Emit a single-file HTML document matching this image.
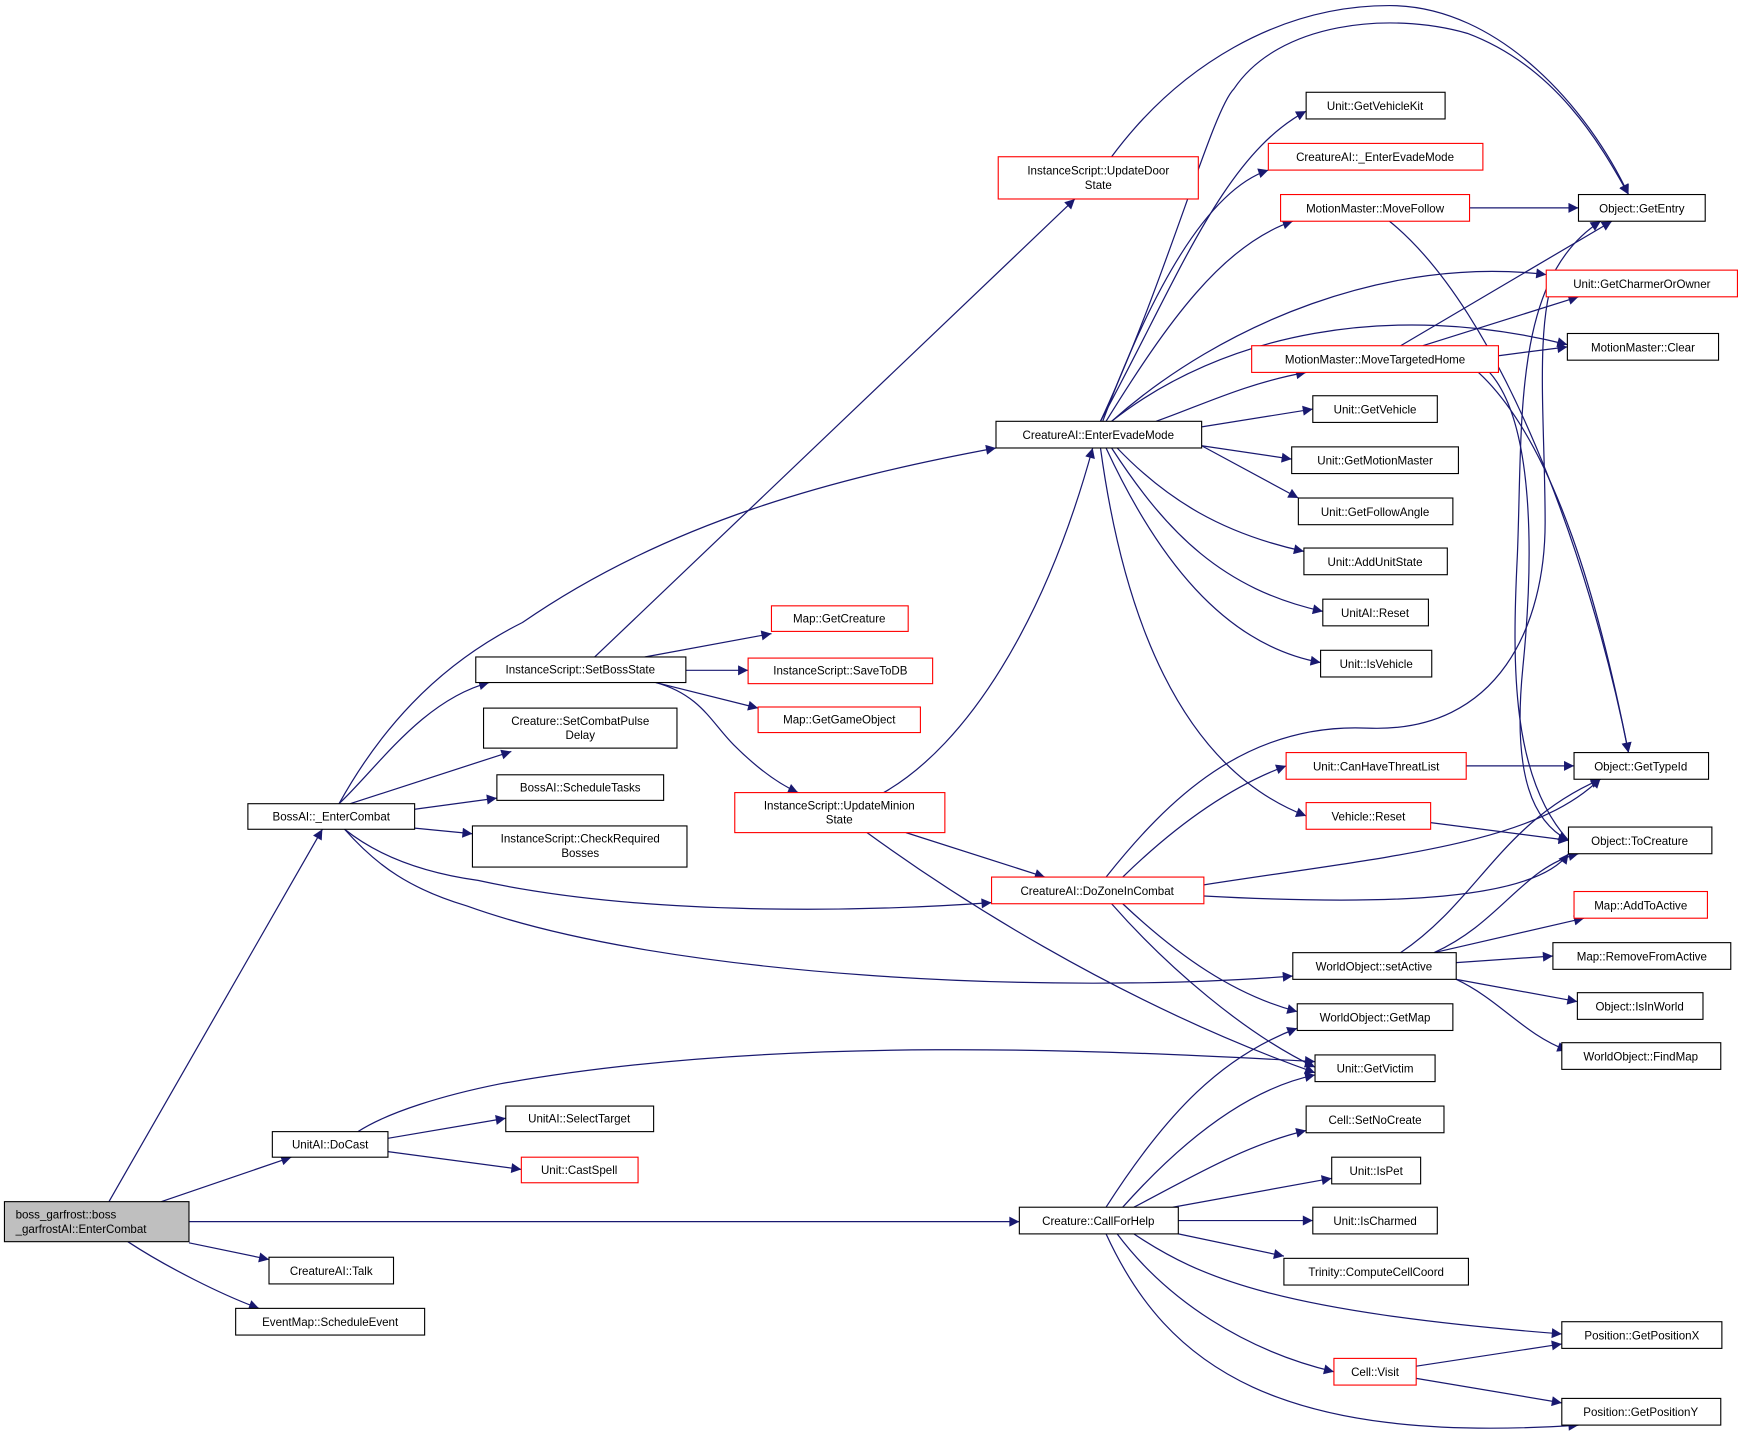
<!DOCTYPE html>
<html><head><meta charset="utf-8"><style>
html,body{margin:0;padding:0;background:#fff;}
svg{display:block;}
text{font-family:"Liberation Sans",sans-serif;font-size:10.4px;fill:#000;}
.e{fill:none;stroke:#191970;stroke-width:1.1;}
.n{fill:#fff;stroke:#000;stroke-width:1;}
.r{fill:#fff;stroke:#ff0000;stroke-width:1;}
</style></head><body>
<svg width="1743" height="1442" viewBox="0 0 1568 1297.2" xmlns="http://www.w3.org/2000/svg">
<defs><marker id="a" viewBox="0 0 10 10" refX="10" refY="5" markerWidth="11" markerHeight="9" markerUnits="userSpaceOnUse" orient="auto"><path d="M0,0L10,5L0,10z" fill="#191970"/></marker></defs>
<g class="e" marker-end="url(#a)">
<path d="M98,1081L290,746"/>
<path d="M145,1081L262,1041"/>
<path d="M170,1099L917,1099"/>
<path d="M170,1118L242,1133"/>
<path d="M115,1117C150,1140 200,1165 233,1177"/>
<path d="M305,723C340,660 390,600 470,560C600,470 750,430 896,403"/>
<path d="M305,723C340,690 380,630 440,614"/>
<path d="M315,723L460,676"/>
<path d="M373,728L447,718"/>
<path d="M373,745L425,750"/>
<path d="M310,746C340,770 380,785 430,792C580,825 780,820 892,812"/>
<path d="M310,746C340,780 370,800 420,815C600,880 950,895 1163,878"/>
<path d="M535,591L967,179"/>
<path d="M580,591L694,570"/>
<path d="M617,603L673,603"/>
<path d="M590,614L682,637"/>
<path d="M590,614C630,625 640,650 660,670C680,690 700,705 718,713"/>
<path d="M1000,141C1060,60 1150,5 1250,5C1350,5 1430,100 1465,175"/>
<path d="M795,713C870,670 940,560 983,403"/>
<path d="M815,749L940,789"/>
<path d="M780,749C850,800 1000,900 1183,965"/>
<path d="M349,1024L455,1006"/>
<path d="M349,1036L469,1052"/>
<path d="M322,1018C350,1000 400,985 450,975C700,930 1000,945 1183,955"/>
<path d="M990,379C1050,250 1090,100 1110,80C1150,20 1250,10 1320,30C1400,60 1440,130 1465,175"/>
<path d="M990,379C1060,250 1100,140 1175,100"/>
<path d="M992,379C1040,250 1090,170 1141,153"/>
<path d="M995,379C1050,290 1100,220 1163,199"/>
<path d="M1000,379C1100,290 1250,230 1391,247"/>
<path d="M1000,379C1100,300 1250,270 1410,310"/>
<path d="M1040,379C1080,365 1120,345 1175,335"/>
<path d="M1081,384L1181,368"/>
<path d="M1081,401L1162,413"/>
<path d="M1081,401L1168,448"/>
<path d="M1005,403C1050,450 1100,480 1173,496"/>
<path d="M1000,403C1050,480 1100,530 1190,550"/>
<path d="M995,403C1040,500 1100,580 1188,596"/>
<path d="M990,403C1010,550 1060,690 1175,734"/>
<path d="M1322,187L1420,187"/>
<path d="M1250,199C1350,280 1430,500 1465,677"/>
<path d="M1260,311L1450,199"/>
<path d="M1280,311L1420,267"/>
<path d="M1348,320L1410,312"/>
<path d="M1330,335C1400,400 1440,550 1465,677"/>
<path d="M1340,335C1380,380 1380,500 1370,600C1360,700 1380,740 1411,756"/>
<path d="M995,789C1050,720 1120,650 1230,655C1350,660 1390,560 1390,470C1390,380 1380,290 1400,243"/>
<path d="M1411,756C1360,700 1360,600 1365,500C1370,380 1360,250 1440,199"/>
<path d="M1010,789C1050,750 1100,710 1157,689"/>
<path d="M1083,796C1250,770 1380,760 1440,700"/>
<path d="M1083,806C1250,815 1380,810 1411,768"/>
<path d="M1010,813C1060,860 1110,895 1167,910"/>
<path d="M1000,813C1050,870 1120,930 1183,960"/>
<path d="M1319,689L1416,689"/>
<path d="M1287,740L1411,756"/>
<path d="M1260,857C1330,810 1350,740 1440,701"/>
<path d="M1290,857C1350,830 1370,780 1420,768"/>
<path d="M1290,857L1425,826"/>
<path d="M1310,866L1397,860"/>
<path d="M1310,881L1419,901"/>
<path d="M1310,881C1350,900 1370,930 1410,945"/>
<path d="M995,1086C1050,1000 1100,950 1167,925"/>
<path d="M1010,1086C1060,1030 1120,980 1183,967"/>
<path d="M1020,1086C1070,1060 1120,1030 1175,1017"/>
<path d="M1055,1086L1198,1060"/>
<path d="M1060,1098L1181,1098"/>
<path d="M1060,1110L1155,1130"/>
<path d="M1020,1110C1080,1150 1150,1180 1405,1200"/>
<path d="M1005,1110C1050,1170 1120,1215 1200,1234"/>
<path d="M995,1110C1050,1230 1150,1300 1420,1282"/>
<path d="M1274,1229L1405,1209"/>
<path d="M1274,1240L1405,1262"/>
</g>
<g>
<rect x="4" y="1081" width="166" height="36" fill="#bfbfbf" stroke="#000"/><text x="14" y="1096">boss_garfrost::boss</text><text x="14" y="1109">_garfrostAI::EnterCombat</text>
<rect class="n" x="223" y="723" width="150" height="23"/><text x="298" y="738" text-anchor="middle">BossAI::_EnterCombat</text>
<rect class="n" x="245" y="1018" width="104" height="23"/><text x="297" y="1033" text-anchor="middle">UnitAI::DoCast</text>
<rect class="n" x="242" y="1131" width="112" height="24"/><text x="298" y="1147" text-anchor="middle">CreatureAI::Talk</text>
<rect class="n" x="212" y="1177" width="170" height="24"/><text x="297" y="1193" text-anchor="middle">EventMap::ScheduleEvent</text>
<rect class="n" x="428" y="591" width="189" height="23"/><text x="522" y="606" text-anchor="middle">InstanceScript::SetBossState</text>
<rect class="n" x="435" y="637" width="174" height="36"/><text x="522" y="652" text-anchor="middle">Creature::SetCombatPulse</text><text x="522" y="665" text-anchor="middle">Delay</text>
<rect class="n" x="447" y="697" width="150" height="23"/><text x="522" y="712" text-anchor="middle">BossAI::ScheduleTasks</text>
<rect class="n" x="425" y="743" width="193" height="37"/><text x="522" y="758" text-anchor="middle">InstanceScript::CheckRequired</text><text x="522" y="771" text-anchor="middle">Bosses</text>
<rect class="n" x="455" y="995" width="133" height="23"/><text x="521" y="1010" text-anchor="middle">UnitAI::SelectTarget</text>
<rect class="r" x="469" y="1041" width="105" height="23"/><text x="521" y="1056" text-anchor="middle">Unit::CastSpell</text>
<rect class="r" x="898" y="141" width="180" height="38"/><text x="988" y="157" text-anchor="middle">InstanceScript::UpdateDoor</text><text x="988" y="170" text-anchor="middle">State</text>
<rect class="r" x="694" y="545" width="123" height="23"/><text x="755" y="560" text-anchor="middle">Map::GetCreature</text>
<rect class="r" x="673" y="592" width="166" height="23"/><text x="756" y="607" text-anchor="middle">InstanceScript::SaveToDB</text>
<rect class="r" x="682" y="636" width="146" height="23"/><text x="755" y="651" text-anchor="middle">Map::GetGameObject</text>
<rect class="r" x="661" y="713" width="189" height="36"/><text x="755" y="728" text-anchor="middle">InstanceScript::UpdateMinion</text><text x="755" y="741" text-anchor="middle">State</text>
<rect class="n" x="896" y="379" width="185" height="24"/><text x="988" y="395" text-anchor="middle">CreatureAI::EnterEvadeMode</text>
<rect class="r" x="892" y="789" width="191" height="24"/><text x="987" y="805" text-anchor="middle">CreatureAI::DoZoneInCombat</text>
<rect class="n" x="1163" y="857" width="147" height="24"/><text x="1236" y="873" text-anchor="middle">WorldObject::setActive</text>
<rect class="n" x="917" y="1086" width="143" height="24"/><text x="988" y="1102" text-anchor="middle">Creature::CallForHelp</text>
<rect class="n" x="1175" y="83" width="125" height="24"/><text x="1237" y="99" text-anchor="middle">Unit::GetVehicleKit</text>
<rect class="r" x="1141" y="129" width="193" height="24"/><text x="1237" y="145" text-anchor="middle">CreatureAI::_EnterEvadeMode</text>
<rect class="r" x="1152" y="175" width="170" height="24"/><text x="1237" y="191" text-anchor="middle">MotionMaster::MoveFollow</text>
<rect class="r" x="1126" y="311" width="222" height="24"/><text x="1237" y="327" text-anchor="middle">MotionMaster::MoveTargetedHome</text>
<rect class="n" x="1181" y="356" width="112" height="24"/><text x="1237" y="372" text-anchor="middle">Unit::GetVehicle</text>
<rect class="n" x="1162" y="402" width="150" height="24"/><text x="1237" y="418" text-anchor="middle">Unit::GetMotionMaster</text>
<rect class="n" x="1168" y="448" width="139" height="24"/><text x="1237" y="464" text-anchor="middle">Unit::GetFollowAngle</text>
<rect class="n" x="1173" y="493" width="129" height="24"/><text x="1237" y="509" text-anchor="middle">Unit::AddUnitState</text>
<rect class="n" x="1190" y="539" width="95" height="24"/><text x="1237" y="555" text-anchor="middle">UnitAI::Reset</text>
<rect class="n" x="1188" y="585" width="100" height="24"/><text x="1238" y="601" text-anchor="middle">Unit::IsVehicle</text>
<rect class="r" x="1157" y="677" width="162" height="24"/><text x="1238" y="693" text-anchor="middle">Unit::CanHaveThreatList</text>
<rect class="r" x="1175" y="722" width="112" height="24"/><text x="1231" y="738" text-anchor="middle">Vehicle::Reset</text>
<rect class="n" x="1167" y="903" width="140" height="24"/><text x="1237" y="919" text-anchor="middle">WorldObject::GetMap</text>
<rect class="n" x="1183" y="949" width="108" height="24"/><text x="1237" y="965" text-anchor="middle">Unit::GetVictim</text>
<rect class="n" x="1175" y="995" width="124" height="24"/><text x="1237" y="1011" text-anchor="middle">Cell::SetNoCreate</text>
<rect class="n" x="1198" y="1041" width="80" height="24"/><text x="1238" y="1057" text-anchor="middle">Unit::IsPet</text>
<rect class="n" x="1181" y="1086" width="112" height="24"/><text x="1237" y="1102" text-anchor="middle">Unit::IsCharmed</text>
<rect class="n" x="1155" y="1132" width="166" height="24"/><text x="1238" y="1148" text-anchor="middle">Trinity::ComputeCellCoord</text>
<rect class="r" x="1200" y="1222" width="74" height="24"/><text x="1237" y="1238" text-anchor="middle">Cell::Visit</text>
<rect class="n" x="1420" y="175" width="114" height="24"/><text x="1477" y="191" text-anchor="middle">Object::GetEntry</text>
<rect class="r" x="1391" y="243" width="172" height="24"/><text x="1477" y="259" text-anchor="middle">Unit::GetCharmerOrOwner</text>
<rect class="n" x="1410" y="300" width="136" height="24"/><text x="1478" y="316" text-anchor="middle">MotionMaster::Clear</text>
<rect class="n" x="1416" y="677" width="121" height="24"/><text x="1476" y="693" text-anchor="middle">Object::GetTypeId</text>
<rect class="n" x="1411" y="744" width="129" height="24"/><text x="1475" y="760" text-anchor="middle">Object::ToCreature</text>
<rect class="r" x="1416" y="802" width="120" height="24"/><text x="1476" y="818" text-anchor="middle">Map::AddToActive</text>
<rect class="n" x="1397" y="848" width="160" height="24"/><text x="1477" y="864" text-anchor="middle">Map::RemoveFromActive</text>
<rect class="n" x="1419" y="893" width="113" height="24"/><text x="1475" y="909" text-anchor="middle">Object::IsInWorld</text>
<rect class="n" x="1405" y="938" width="143" height="24"/><text x="1476" y="954" text-anchor="middle">WorldObject::FindMap</text>
<rect class="n" x="1405" y="1189" width="144" height="24"/><text x="1477" y="1205" text-anchor="middle">Position::GetPositionX</text>
<rect class="n" x="1405" y="1258" width="143" height="24"/><text x="1476" y="1274" text-anchor="middle">Position::GetPositionY</text>
</g>
</svg>
</body></html>
